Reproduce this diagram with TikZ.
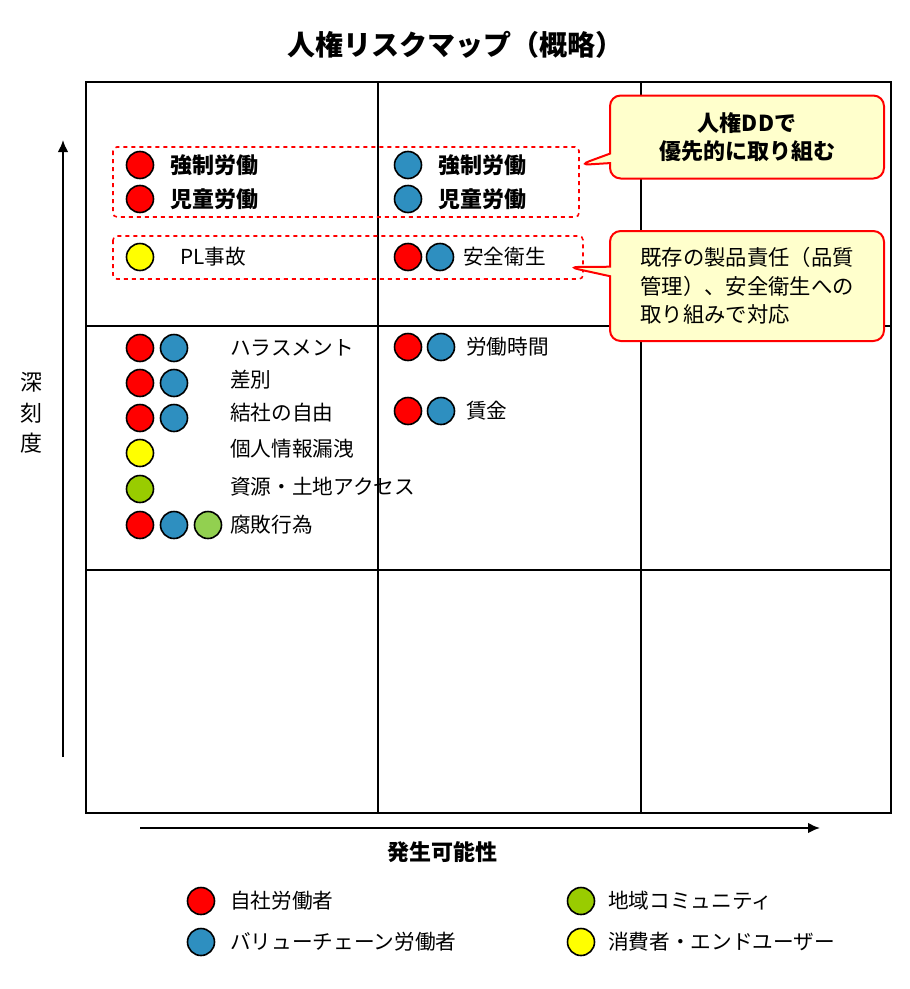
\documentclass[tikz,border=0pt]{standalone}
\usepackage{fontspec}
\setmainfont{Noto Sans CJK JP}
\usetikzlibrary{shapes.callouts,arrows.meta}
\definecolor{cred}{HTML}{FF0000}
\definecolor{cblue}{HTML}{2E8FC0}
\definecolor{cyel}{HTML}{FFFF00}
\definecolor{cgreen}{HTML}{99CC00}
\definecolor{clgreen}{HTML}{92D050}
\definecolor{cnote}{HTML}{FFFFCC}
\tikzset{
 dot/.style={circle,draw=black,line width=1.2pt,minimum size=27*0.75pt,inner sep=0pt},
 lbl/.style={anchor=west,font=\fontsize{15.5}{18}\selectfont,inner sep=0pt},
 blbl/.style={lbl,font=\fontsize{16.5}{19}\selectfont\bfseries},
 grid/.style={line width=1.5pt},
 dbox/.style={draw=cred,dashed,line width=1.2pt,rounded corners=3pt},
 note/.style={draw=cred,fill=cnote,line width=1.5pt,rounded corners=8pt,rectangle callout},
 axis/.style={line width=1.5pt,-{Latex[length=9pt,width=8pt]}}
}
\begin{document}
\begin{tikzpicture}[x=0.75pt,y=-0.75pt]
\useasboundingbox (0,0) rectangle (910,989);
\node (title) at (455,45) {\fontsize{21}{24}\selectfont\bfseries 人権リスクマップ（概略）};
\draw[grid] (86,82) rectangle (891,813);
\draw[grid] (378,82) -- (378,813) (641,82) -- (641,813) (86,326) -- (891,326) (86,570) -- (891,570);
\coordinate (ya) at (63,757); \coordinate (yb) at (63,140);
\draw[axis] (ya) -- (yb);
\node[align=center,font=\fontsize{16.5}{23}\selectfont] (ylab) at (32,413) {深\\刻\\度};
\coordinate (xa) at (140,828); \coordinate (xb) at (820,828);
\draw[axis] (xa) -- (xb);
\node[font=\fontsize{16.5}{19}\selectfont\bfseries] (xlab) at (442,852) {発生可能性};
\draw[dbox] (113,147) rectangle (579,217);
\draw[dbox] (113,236) rectangle (583,279);
\node[note,minimum width=274*0.75pt,minimum height=83*0.75pt,align=center,font=\fontsize{16.5}{21}\selectfont\bfseries,callout absolute pointer={(579,165)}] (n1) at (747,137) {人権DDで\\優先的に取り組む};
\node[note,minimum width=274*0.75pt,minimum height=110*0.75pt,align=left,font=\fontsize{16}{21.5}\selectfont,callout absolute pointer={(568,267)}] (n2) at (747,286) {既存の製品責任（品質\\管理）、安全衛生への\\取り組みで対応};
\node[dot,fill=cred] (a1) at (140,165) {}; \node[blbl] (t1) at (170,165) {強制労働};
\node[dot,fill=cred] (a2) at (140,199) {}; \node[blbl] (t2) at (170,199) {児童労働};
\node[dot,fill=cblue] (b1) at (408,165) {}; \node[blbl] (t3) at (438,165) {強制労働};
\node[dot,fill=cblue] (b2) at (408,199) {}; \node[blbl] (t4) at (438,199) {児童労働};
\node[dot,fill=cyel] (c1) at (140,257) {}; \node[lbl] (t5) at (180,257) {PL事故};
\node[dot,fill=cred] (d1) at (408,257) {}; \node[dot,fill=cblue] (d2) at (440,257) {}; \node[lbl] (t6) at (463,257) {安全衛生};
\node[dot,fill=cred] (e1) at (140,348) {}; \node[dot,fill=cblue] (e2) at (174,348) {}; \node[lbl] (t7) at (230,348) {ハラスメント};
\node[dot,fill=cred] (f1) at (140,383) {}; \node[dot,fill=cblue] (f2) at (174,383) {}; \node[lbl] (t8) at (230,380) {差別};
\node[dot,fill=cred] (g1) at (140,418) {}; \node[dot,fill=cblue] (g2) at (174,418) {}; \node[lbl] (t9) at (230,413) {結社の自由};
\node[dot,fill=cyel] (h1) at (140,453) {}; \node[lbl] (t10) at (230,449) {個人情報漏洩};
\node[dot,fill=cgreen] (i1) at (140,489) {}; \node[lbl] (t11) at (230,487) {資源・土地アクセス};
\node[dot,fill=cred] (j1) at (140,525) {}; \node[dot,fill=cblue] (j2) at (174,525) {}; \node[dot,fill=clgreen] (j3) at (208,525) {}; \node[lbl] (t12) at (230,525) {腐敗行為};
\node[dot,fill=cred] (k1) at (408,347) {}; \node[dot,fill=cblue] (k2) at (441,347) {}; \node[lbl] (t13) at (466,347) {労働時間};
\node[dot,fill=cred] (l1) at (408,411) {}; \node[dot,fill=cblue] (l2) at (441,411) {}; \node[lbl] (t14) at (466,411) {賃金};
\node[dot,fill=cred] (m1) at (201,901) {}; \node[lbl] (u1) at (230,901) {自社労働者};
\node[dot,fill=cblue] (m2) at (201,942) {}; \node[lbl] (u2) at (230,942) {バリューチェーン労働者};
\node[dot,fill=cgreen] (m3) at (581,901) {}; \node[lbl] (u3) at (608,901) {地域コミュニティ};
\node[dot,fill=cyel] (m4) at (581,942) {}; \node[lbl] (u4) at (608,942) {消費者・エンドユーザー};
\end{tikzpicture}
\end{document}
